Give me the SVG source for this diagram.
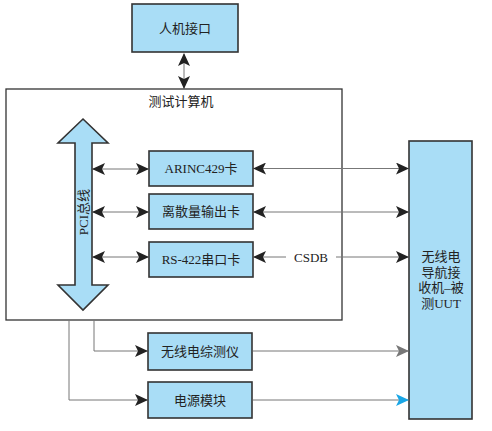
<svg xmlns="http://www.w3.org/2000/svg" width="492" height="431" viewBox="0 0 492 431">
<style>
.box{fill:#a9ddf6;stroke:#333;stroke-width:1.6}
.frame{fill:#fff;stroke:#333;stroke-width:1.3}
.ln{fill:none;stroke:#777;stroke-width:1}
text{font-family:"Liberation Serif","Noto Sans CJK SC",serif;font-size:13px;fill:#222;text-anchor:middle;dominant-baseline:central}
</style>
<defs>
<marker id="ah" markerUnits="userSpaceOnUse" markerWidth="14" markerHeight="12" refX="12" refY="6" orient="auto-start-reverse" viewBox="0 0 14 12">
<path d="M0,0 L13,6 L0,12 L3,6 z" fill="#222"/>
</marker>
<marker id="ahg" markerUnits="userSpaceOnUse" markerWidth="14" markerHeight="12" refX="12" refY="6" orient="auto" viewBox="0 0 14 12">
<path d="M0,0 L13,6 L0,12 L3,6 z" fill="#777"/>
</marker>
<marker id="ahc" markerUnits="userSpaceOnUse" markerWidth="14" markerHeight="12" refX="12" refY="6" orient="auto" viewBox="0 0 14 12">
<path d="M0,0 L13,6 L0,12 L3,6 z" fill="#19a6e6"/>
</marker>
</defs>

<g id="computer">
<rect class="frame" x="6" y="89" width="336" height="231"/>
<text x="181" y="101">测试计算机</text>
</g>

<g id="hmi">
<rect class="box" x="132" y="4" width="106" height="48"/>
<text x="185" y="28">人机接口</text>
</g>

<g id="pci-bus">
<path class="box" d="M83,119 L108,143 L92,143 L92,285 L108,285 L83,310 L58,285 L75,285 L75,143 L58,143 Z" stroke-width="1.3"/>
<text x="83" y="212" transform="rotate(-90 83 212)">PCI总线</text>
</g>

<g id="arinc">
<rect class="box" x="149" y="151" width="104" height="35"/>
<text x="201" y="168.5">ARINC429卡</text>
</g>
<g id="discrete">
<rect class="box" x="149" y="194" width="104" height="35"/>
<text x="201" y="211.5">离散量输出卡</text>
</g>
<g id="rs422">
<rect class="box" x="149" y="242" width="104" height="35"/>
<text x="201" y="259.5">RS-422串口卡</text>
</g>

<g id="uut">
<rect class="box" x="409" y="141" width="63" height="278"/>
<text x="441" y="256">无线电</text>
<text x="441" y="272">导航接</text>
<text x="441" y="287.5">收机–被</text>
<text x="441" y="303">测UUT</text>
</g>

<g id="tester">
<rect class="box" x="148" y="333" width="104" height="37"/>
<text x="200" y="351.5">无线电综测仪</text>
</g>
<g id="power">
<rect class="box" x="148" y="382" width="104" height="36"/>
<text x="200" y="400">电源模块</text>
</g>

<g id="connectors">
<line class="ln" x1="184" y1="54" x2="184" y2="88" marker-start="url(#ah)" marker-end="url(#ah)"/>
<line class="ln" x1="93" y1="169" x2="148" y2="169" marker-start="url(#ah)" marker-end="url(#ah)"/>
<line class="ln" x1="93" y1="212" x2="148" y2="212" marker-start="url(#ah)" marker-end="url(#ah)"/>
<line class="ln" x1="93" y1="257" x2="148" y2="257" marker-start="url(#ah)" marker-end="url(#ah)"/>
<line class="ln" x1="254" y1="168.5" x2="408" y2="168.5" marker-start="url(#ah)" marker-end="url(#ah)"/>
<line class="ln" x1="254" y1="212" x2="408" y2="212" marker-start="url(#ah)" marker-end="url(#ah)"/>
<line class="ln" x1="254" y1="257" x2="286" y2="257" marker-start="url(#ah)"/>
<line class="ln" x1="336" y1="257" x2="408" y2="257" marker-end="url(#ah)"/>
<text x="311" y="257">CSDB</text>
<polyline class="ln" points="94,320 94,351 147,351" marker-end="url(#ah)"/>
<polyline class="ln" points="69,320 69,400 147,400" marker-end="url(#ah)"/>
<line class="ln" x1="253" y1="351" x2="408" y2="351" marker-end="url(#ahg)"/>
<line class="ln" x1="253" y1="400" x2="408" y2="400" marker-end="url(#ahc)"/>
</g>
</svg>
